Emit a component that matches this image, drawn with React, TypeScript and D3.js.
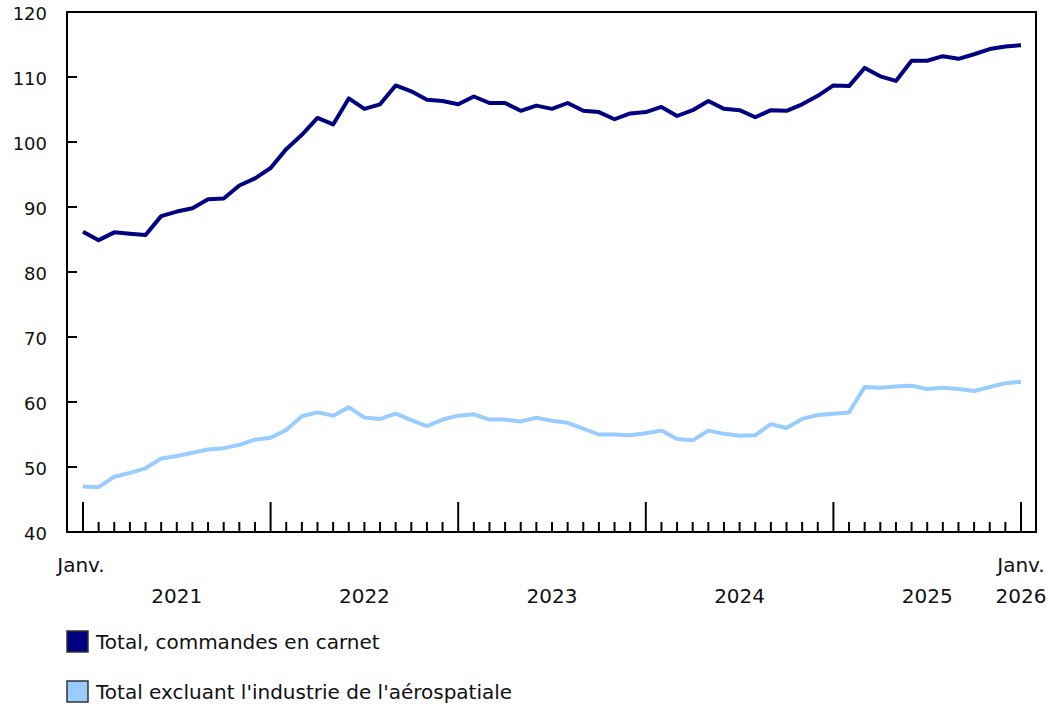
import { scaleLinear, line } from "d3";

const WIDTH = 1050;
const HEIGHT = 704;

const MONTHS_COUNT = 61; // Jan 2021 .. Jan 2026
const YEARS = ["2021", "2022", "2023", "2024", "2025"];
const Y_TICKS = [40, 50, 60, 70, 80, 90, 100, 110, 120];

const SERIES_NAMES = [
  "Total, commandes en carnet",
  "Total excluant l'industrie de l'aérospatiale",
];
const SERIES_COLORS = ["#000080", "#99CCFF"];

// Total, commandes en carnet
const totalBacklog = [
  86.2, 84.9, 86.1, 85.9, 85.7, 88.6, 89.3, 89.8, 91.2, 91.3, 93.3, 94.4,
  96.0, 98.9, 101.1, 103.7, 102.7, 106.7, 105.1, 105.8, 108.7, 107.8, 106.5, 106.3,
  105.8, 107.0, 106.0, 106.0, 104.8, 105.6, 105.1, 106.0, 104.8, 104.6, 103.5, 104.4,
  104.6, 105.4, 104.0, 104.9, 106.3, 105.1, 104.9, 103.8, 104.9, 104.8, 105.8, 107.1,
  108.7, 108.6, 111.4, 110.1, 109.4, 112.5, 112.5, 113.2, 112.8, 113.5, 114.3, 114.7,
  114.9,
];

// Total excluant l'industrie de l'aérospatiale
const excludingAerospace = [
  47.0, 46.9, 48.5, 49.1, 49.8, 51.3, 51.7, 52.2, 52.7, 52.9, 53.4, 54.2,
  54.5, 55.7, 57.8, 58.4, 57.9, 59.2, 57.6, 57.4, 58.2, 57.2, 56.3, 57.3,
  57.9, 58.1, 57.3, 57.3, 57.0, 57.6, 57.1, 56.8, 55.9, 55.0, 55.0, 54.9,
  55.2, 55.6, 54.3, 54.1, 55.6, 55.1, 54.8, 54.9, 56.6, 56.0, 57.4, 58.0,
  58.2, 58.4, 62.3, 62.2, 62.4, 62.5, 62.0, 62.2, 62.0, 61.7, 62.3, 62.9,
  63.1,
];

const FRAME = { left: 67, right: 1036, top: 12, bottom: 532 };
const X_RANGE: [number, number] = [83, 1021];
const FONT = "'DejaVu Sans', Verdana, sans-serif";

export default function App() {
  const x = scaleLinear().domain([0, MONTHS_COUNT - 1]).range(X_RANGE);
  const y = scaleLinear().domain([40, 120]).range([FRAME.bottom, FRAME.top]);

  const path = line<number>()
    .x((_, i) => x(i))
    .y(d => y(d));

  const monthIdx = Array.from({ length: MONTHS_COUNT }, (_, i) => i);

  return (
    <div style={{ position: "absolute", left: 0, top: 0 }}>
      <svg width={WIDTH} height={HEIGHT} style={{ display: "block" }} fontFamily={FONT}>
        <rect x={0} y={0} width={WIDTH} height={HEIGHT} fill="white" />

        {/* y ticks + labels */}
        {Y_TICKS.map(t => (
          <g key={t} transform={`translate(0, ${y(t)})`}>
            <line x1={FRAME.left} x2={FRAME.left + 10} stroke="#000" strokeWidth={2} />
            <text x={47} dy="0.42em" textAnchor="end" fontSize={18} fill="#111">
              {t}
            </text>
          </g>
        ))}

        {/* month ticks */}
        {monthIdx.map(i => {
          const major = i % 12 === 0;
          return (
            <line
              key={i}
              x1={x(i)}
              x2={x(i)}
              y1={FRAME.bottom}
              y2={FRAME.bottom - (major ? 30 : 10)}
              stroke="#000"
              strokeWidth={2}
            />
          );
        })}

        {/* frame */}
        <rect
          x={FRAME.left}
          y={FRAME.top}
          width={FRAME.right - FRAME.left}
          height={FRAME.bottom - FRAME.top}
          fill="none"
          stroke="#000"
          strokeWidth={2}
        />

        {/* x labels */}
        <text x={x(0) - 2} y={572} textAnchor="middle" fontSize={20} fill="#111">Janv.</text>
        <text x={x(60)} y={572} textAnchor="middle" fontSize={20} fill="#111">Janv.</text>
        {YEARS.map((yr, k) => (
          <text key={yr} x={x(k * 12 + 6)} y={603} textAnchor="middle" fontSize={20} fill="#111">
            {yr}
          </text>
        ))}
        <text x={x(60)} y={603} textAnchor="middle" fontSize={20} fill="#111">2026</text>

        {/* lines */}
        <path d={path(excludingAerospace) ?? ""} fill="none" stroke={SERIES_COLORS[1]} strokeWidth={4} strokeLinejoin="round" />
        <path d={path(totalBacklog) ?? ""} fill="none" stroke={SERIES_COLORS[0]} strokeWidth={4} strokeLinejoin="round" />

        {/* legend */}
        {SERIES_NAMES.map((name, k) => (
          <g key={name} transform={`translate(0, ${641 + k * 50})`}>
            <rect x={67} y={-10} width={21} height={21} fill={SERIES_COLORS[k]} stroke="#333" strokeWidth={1.5} />
            <text x={96} dy="0.38em" fontSize={20} fill="#111">{name}</text>
          </g>
        ))}
      </svg>
    </div>
  );
}
